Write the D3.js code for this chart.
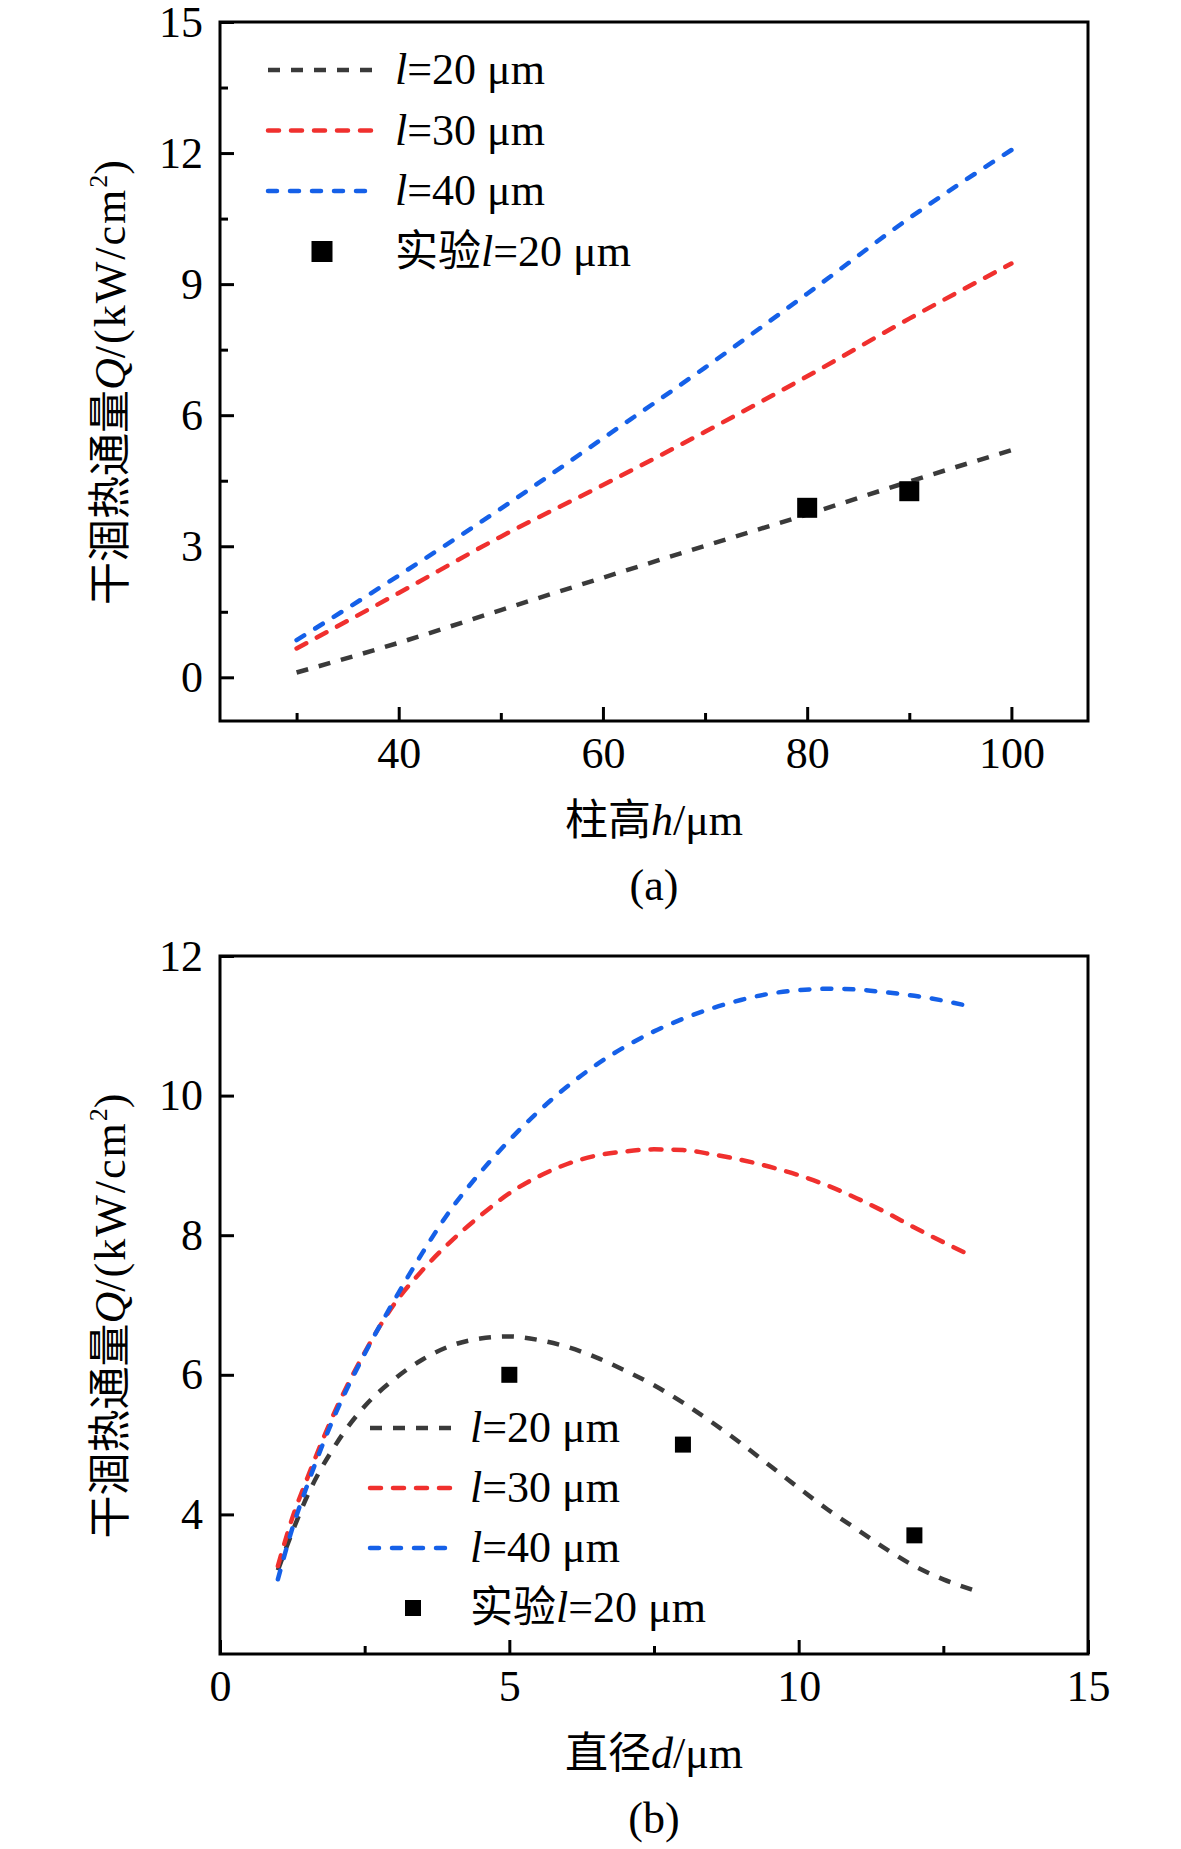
<!DOCTYPE html>
<html>
<head>
<meta charset="utf-8">
<script src="https://cdn.jsdelivr.net/npm/d3@7"></script>
<style>
  body { margin: 0; background: #fff; }
  text { font-family: "Liberation Serif", "Times New Roman", "DejaVu Serif", "Noto Sans CJK SC", serif; fill: #000; }
</style>
</head>
<body>
<svg id="chart" width="1181" height="1849"></svg>
<script>
// ---- panel (a): Q vs pillar height h ----
const hValues = [30, 40, 50, 60, 70, 80, 90, 100]
const qH_l20 = [0.11, 0.79, 1.54, 2.28, 3.01, 3.73, 4.48, 5.20]
const qH_l30 = [0.66, 1.93, 3.22, 4.40, 5.62, 6.89, 8.21, 9.47]
const qH_l40 = [0.85, 2.33, 3.86, 5.47, 7.09, 8.78, 10.51, 12.07]
const expH = [80, 90]
const expQH = [3.88, 4.26]
const hTicks = [40, 60, 80, 100]
const hMinor = [30, 50, 70, 90]
const qTicksA = [0, 3, 6, 9, 12, 15]
const qMinorA = [1.5, 4.5, 7.5, 10.5, 13.5]

// ---- panel (b): Q vs diameter d ----
const dValues = [1, 1.25, 1.5, 2, 2.5, 3, 3.5, 4, 4.5, 5, 5.5, 6, 6.5, 7, 7.5, 8, 8.5, 9, 9.5, 10, 10.5, 11, 11.5, 12, 12.5, 13]
const qD_l20 = [3.2, 3.75, 4.25, 5.0, 5.55, 5.93, 6.22, 6.42, 6.52, 6.55, 6.5, 6.4, 6.25, 6.06, 5.85, 5.6, 5.32, 5.02, 4.7, 4.38, 4.07, 3.79, 3.51, 3.26, 3.07, 2.92]
const qD_l30 = [3.26, 3.95, 4.5, 5.5, 6.32, 7.0, 7.5, 7.92, 8.28, 8.6, 8.84, 9.02, 9.14, 9.2, 9.23, 9.22, 9.16, 9.08, 8.98, 8.86, 8.71, 8.53, 8.33, 8.11, 7.9, 7.7]
const qD_l40 = [3.07, 3.8, 4.4, 5.45, 6.3, 7.05, 7.75, 8.38, 8.9, 9.36, 9.77, 10.13, 10.44, 10.7, 10.92, 11.1, 11.25, 11.37, 11.46, 11.51, 11.53, 11.52, 11.48, 11.43, 11.36, 11.27]
const expD = [5, 8, 12]
const expQD = [6.0, 5.0, 3.7]
const dTicks = [0, 5, 10, 15]
const dMinor = [2.5, 7.5, 12.5]
const qTicksB = [4, 6, 8, 10, 12]

const seriesNames = ["20", "30", "40"]
const seriesColors = ["#3a3a3a", "#f0302e", "#1560e8"]
const seriesDash = ["12 11", "11 12", "9 13"]

const cjk = "'Noto Sans CJK SC', sans-serif"
const svg = d3.select("#chart")

function drawPanel(cfg) {
    const x = d3.scaleLinear().domain(cfg.xDomain).range([cfg.left, cfg.right])
    const y = d3.scaleLinear().domain(cfg.yDomain).range([cfg.bottom, cfg.top])
    const g = svg.append("g")

    // ticks point inward
    const xAxis = g.append("g")
        .attr("transform", "translate(0," + cfg.bottom + ")")
        .call(d3.axisBottom(x).tickValues(cfg.xTicks).tickSize(-14).tickPadding(16))
    xAxis.append("g").call(d3.axisBottom(x).tickValues(cfg.xMinor).tickSize(-8).tickFormat(""))

    const yAxis = g.append("g")
        .attr("transform", "translate(" + cfg.left + ",0)")
        .call(d3.axisLeft(y).tickValues(cfg.yTicks).tickSize(-14).tickPadding(17))
    if (cfg.yMinor) {
        yAxis.append("g").call(d3.axisLeft(y).tickValues(cfg.yMinor).tickSize(-8).tickFormat(""))
    }

    g.selectAll(".domain").remove()
    g.selectAll(".tick line").attr("stroke", "#000").attr("stroke-width", 3)
    g.selectAll(".tick text").attr("font-size", 44).attr("fill", "#000")
        .attr("font-family", null)

    // frame
    g.append("rect")
        .attr("x", cfg.left).attr("y", cfg.top)
        .attr("width", cfg.right - cfg.left).attr("height", cfg.bottom - cfg.top)
        .attr("fill", "none").attr("stroke", "#000").attr("stroke-width", 3)

    // curves
    const line = d3.line()
        .x((d, i) => x(cfg.xs[i]))
        .y(d => y(d))
        .curve(d3.curveMonotoneX)

    cfg.series.forEach(function (s, i) {
        g.append("path")
            .attr("d", line(s))
            .attr("fill", "none")
            .attr("stroke", seriesColors[i])
            .attr("stroke-width", 4.5)
            .attr("stroke-dasharray", seriesDash[i])
            .attr("stroke-linecap", i == 0 ? "butt" : "round")
    })

    // experiment points
    g.selectAll(".exp")
        .data(cfg.expX)
        .enter().append("rect")
        .attr("x", d => x(d) - cfg.markSize / 2)
        .attr("y", (d, i) => y(cfg.expY[i]) - cfg.markSize / 2)
        .attr("width", cfg.markSize)
        .attr("height", cfg.markSize)
        .attr("fill", "#000")

    // legend
    const lg = cfg.legend
    seriesNames.forEach(function (name, i) {
        const ly = lg.y + i * lg.step
        g.append("line")
            .attr("x1", lg.x1).attr("x2", lg.x2)
            .attr("y1", ly).attr("y2", ly)
            .attr("stroke", seriesColors[i])
            .attr("stroke-width", 4.5)
            .attr("stroke-dasharray", seriesDash[i])
            .attr("stroke-linecap", i == 0 ? "butt" : "round")
        const t = g.append("text")
            .attr("x", lg.tx).attr("y", ly + 14)
            .attr("font-size", 44)
        t.append("tspan").attr("font-style", "italic").text("l")
        t.append("tspan").text("=" + name + " μm")
    })
    const my = lg.y + 3 * lg.step
    g.append("rect")
        .attr("x", lg.mx - lg.mSize / 2).attr("y", my - lg.mSize / 2)
        .attr("width", lg.mSize).attr("height", lg.mSize)
        .attr("fill", "#000")
    const mt = g.append("text")
        .attr("x", lg.tx).attr("y", my + 14)
        .attr("font-size", 44)
    mt.append("tspan").style("font-family", cjk).attr("font-size", 43).text("实验")
    mt.append("tspan").attr("font-style", "italic").text("l")
    mt.append("tspan").text("=20 μm")

    // x title
    const xt = g.append("text")
        .attr("x", (cfg.left + cfg.right) / 2)
        .attr("y", cfg.bottom + 114)
        .attr("text-anchor", "middle")
        .attr("font-size", 44)
    xt.append("tspan").style("font-family", cjk).attr("font-size", 43).text(cfg.xLabelCn)
    xt.append("tspan").attr("font-style", "italic").text(cfg.xLabelVar)
    xt.append("tspan").text("/μm")

    // y title
    const yc = (cfg.top + cfg.bottom) / 2 + 11
    const yt = g.append("text")
        .attr("transform", "translate(125," + yc + ") rotate(-90)")
        .attr("text-anchor", "middle")
        .attr("font-size", 44)
    yt.append("tspan").style("font-family", cjk).attr("font-size", 43).text("干涸热通量")
    yt.append("tspan").attr("font-style", "italic").text("Q")
    yt.append("tspan").attr("letter-spacing", 2).text("/(kW/cm")
    yt.append("tspan").attr("font-size", 26).attr("dy", -18).text("2")
    yt.append("tspan").attr("dy", 18).text(")")

    // panel tag
    g.append("text")
        .attr("x", (cfg.left + cfg.right) / 2)
        .attr("y", cfg.bottom + 179)
        .attr("text-anchor", "middle")
        .attr("font-size", 44)
        .text(cfg.tag)
}

drawPanel({
    left: 220, right: 1088, top: 22, bottom: 721,
    xDomain: [22.5, 107.5], yDomain: [-1, 15],
    xTicks: hTicks, xMinor: hMinor, yTicks: qTicksA, yMinor: qMinorA,
    xs: hValues, series: [qH_l20, qH_l30, qH_l40],
    expX: expH, expY: expQH, markSize: 20,
    legend: { x1: 268, x2: 374, y: 70, step: 60.5, tx: 395, mx: 322, mSize: 21 },
    xLabelCn: "柱高", xLabelVar: "h", tag: "(a)"
})

drawPanel({
    left: 220, right: 1088, top: 956, bottom: 1654,
    xDomain: [0, 15], yDomain: [2, 12],
    xTicks: dTicks, xMinor: dMinor, yTicks: qTicksB, yMinor: null,
    xs: dValues, series: [qD_l20, qD_l30, qD_l40],
    expX: expD, expY: expQD, markSize: 16,
    legend: { x1: 370, x2: 453, y: 1428, step: 60, tx: 470, mx: 413, mSize: 16 },
    xLabelCn: "直径", xLabelVar: "d", tag: "(b)"
})
</script>
</body>
</html>
